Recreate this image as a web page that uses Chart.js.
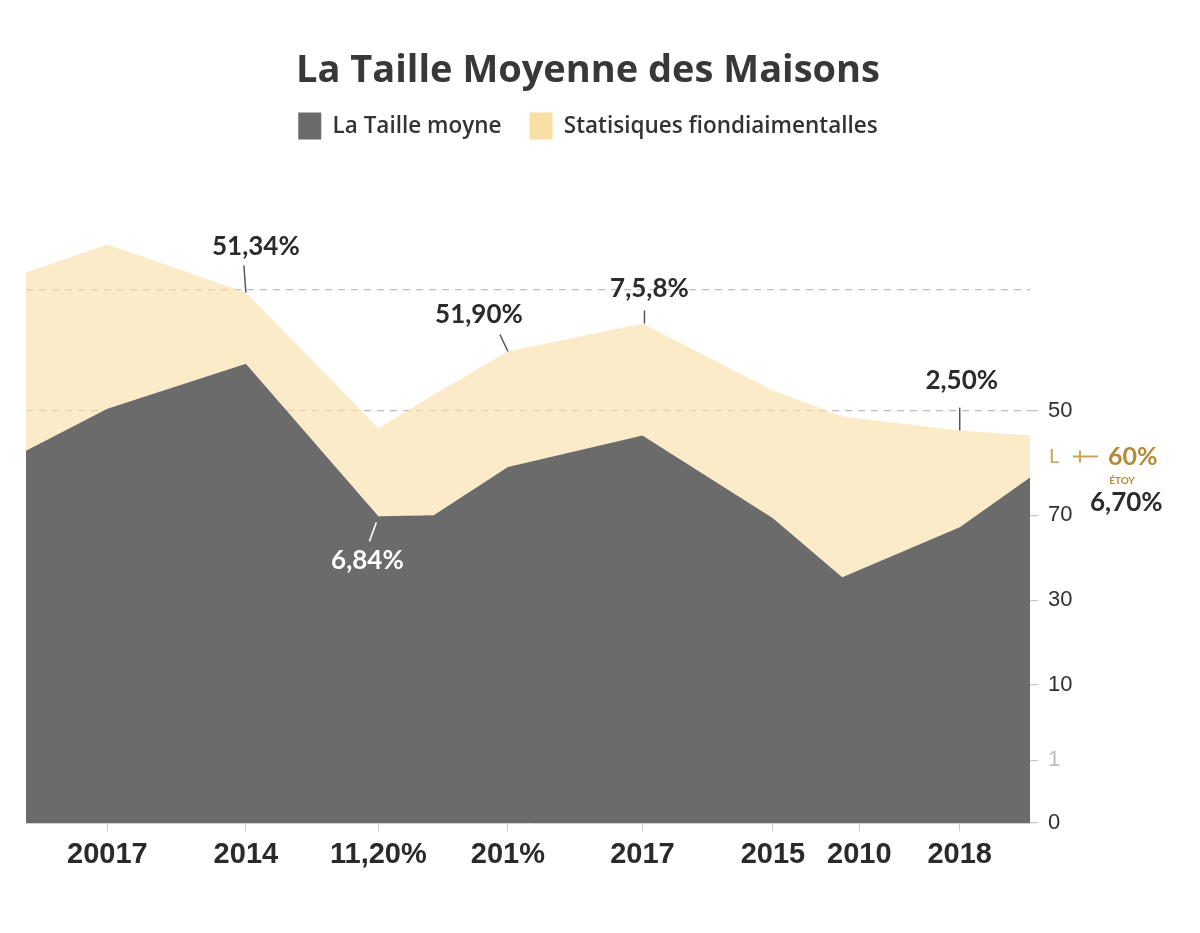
<!DOCTYPE html>
<html lang="fr">
<head>
<meta charset="utf-8">
<title>La Taille Moyenne des Maisons</title>
<script src="https://cdn.jsdelivr.net/npm/chart.js@4.4.1/dist/chart.umd.min.js"></script>
<style>
    html, body { margin: 0; padding: 0; background: #fff; }
    #wrap { width: 1200px; height: 933px; }
</style>
</head>
<body>
<div id="wrap"><canvas id="maisonsChart"></canvas></div>
<script>
// Données
const seriesNames = ['La Taille moyne', 'Statisiques fiondiaimentalles'];
const periodPositions = [0, 8.1, 21.9, 35.1, 40.6, 48.0, 61.4, 74.4, 81.3, 93.0, 100];
const tailleValues = [61.2, 68.1, 75.5, 50.4, 50.6, 58.5, 63.7, 50.1, 40.4, 48.6, 56.8];
const statValues = [29.3, 27.0, 11.7, 14.5, 19.8, 19.0, 18.4, 21.0, 26.4, 15.9, 6.9];

const xTickPositions = [8.1, 21.9, 35.1, 48.0, 61.4, 74.4, 83.0, 93.0];
const xTickLabels = ['20017', '2014', '11,20%', '201%', '2017', '2015', '2010', '2018'];

const yTickValues = [0, 10.3, 22.7, 36.6, 50.6, 67.8, 87.7];
const yTickLabels = ['0', '1', '10', '30', '70', '50', ''];

const calloutTexts = ['51,34%', '51,90%', '7,5,8%', '2,50%', '6,84%'];
const calloutIndex = [2, 5, 6, 9, 3];
const calloutSeries = [1, 1, 1, 1, 0];
const sideNoteTexts = ['L', '60%', 'ÉTOY', '6,70%'];

// petit espace entre la légende et le graphique
const legendGap = {
    id: 'legendGap',
    beforeLayout(chart) {
        const legend = chart.legend;
        if (legend && !legend._gapDone) {
            const fit = legend.fit;
            legend.fit = function () {
                fit.call(this);
                this.height += 65;
            };
            legend._gapDone = true;
        }
    }
};

// étiquettes et traits de rappel
const callouts = {
    id: 'callouts',
    afterDatasetsDraw(chart) {
        const ctx = chart.ctx;
        const offsets = [
            { tx: 10, ty: -46, l1: [0, 0], l2: [-2, -27], color: '#2b2b2b', line: '#555' },
            { tx: -29, ty: -37, l1: [0, 0], l2: [-8, -17], color: '#2b2b2b', line: '#555' },
            { tx: 7, ty: -35, l1: [2, 0], l2: [2, -13], color: '#2b2b2b', line: '#555' },
            { tx: 2, ty: -50, l1: [0, 0], l2: [0, -23], color: '#2b2b2b', line: '#555' },
            { tx: -11, ty: 44, l1: [-2, 6], l2: [-9, 25], color: '#ffffff', line: '#ffffff' }
        ];
        ctx.save();
        ctx.textAlign = 'center';
        ctx.textBaseline = 'middle';
        ctx.font = 'bold 26px Lato, "Open Sans", sans-serif';
        calloutTexts.forEach((text, i) => {
            const pt = chart.getDatasetMeta(calloutSeries[i]).data[calloutIndex[i]];
            const o = offsets[i];
            ctx.strokeStyle = o.line;
            ctx.lineWidth = 1.5;
            ctx.beginPath();
            ctx.moveTo(pt.x + o.l1[0], pt.y + o.l1[1]);
            ctx.lineTo(pt.x + o.l2[0], pt.y + o.l2[1]);
            ctx.stroke();
            ctx.fillStyle = o.color;
            ctx.fillText(text, pt.x + o.tx, pt.y + o.ty);
        });

        // notes à droite du dernier point
        const last = chart.getDatasetMeta(1).data[periodPositions.length - 1];
        const gold = '#b58b35';
        ctx.textAlign = 'left';
        ctx.fillStyle = '#c9a45a';
        ctx.font = '20px Lato, sans-serif';
        ctx.fillText(sideNoteTexts[0], last.x + 19, last.y + 21);
        ctx.strokeStyle = '#c9a45a';
        ctx.lineWidth = 2;
        ctx.beginPath();
        ctx.moveTo(last.x + 43, last.y + 21);
        ctx.lineTo(last.x + 68, last.y + 21);
        ctx.moveTo(last.x + 50, last.y + 15);
        ctx.lineTo(last.x + 50, last.y + 27);
        ctx.stroke();
        ctx.fillStyle = gold;
        ctx.font = 'bold 25px Lato, sans-serif';
        ctx.fillText(sideNoteTexts[1], last.x + 78, last.y + 21);
        ctx.textAlign = 'center';
        ctx.font = 'bold 10px Lato, sans-serif';
        ctx.fillText(sideNoteTexts[2], last.x + 92, last.y + 45);
        ctx.textAlign = 'left';
        ctx.fillStyle = '#2b2b2b';
        ctx.font = 'bold 26px Lato, sans-serif';
        ctx.fillText(sideNoteTexts[3], last.x + 60, last.y + 67);
        ctx.restore();
    }
};

const legendSwatches = ['#6b6b6b', '#f8dfa6'];

const ctx = document.getElementById('maisonsChart').getContext('2d');
new Chart(ctx, {
    type: 'line',
    data: {
        datasets: [
            {
                label: seriesNames[0],
                data: tailleValues.map((v, i) => ({ x: periodPositions[i], y: v })),
                backgroundColor: '#6b6b6b',
                borderColor: 'transparent',
                borderWidth: 0,
                pointRadius: 0,
                fill: 'origin',
                tension: 0
            },
            {
                label: seriesNames[1],
                data: statValues.map((v, i) => ({ x: periodPositions[i], y: v })),
                backgroundColor: 'rgba(250, 222, 163, 0.6)',
                borderColor: 'transparent',
                borderWidth: 0,
                pointRadius: 0,
                fill: '-1',
                tension: 0
            }
        ]
    },
    options: {
        responsive: true,
        maintainAspectRatio: false,
        animation: false,
        layout: { padding: { left: 26, right: 50, bottom: 50, top: 0 } },
        scales: {
            x: {
                type: 'linear',
                min: 0,
                max: 100,
                afterBuildTicks: (axis) => { axis.ticks = xTickPositions.map(v => ({ value: v })); },
                afterFit: (axis) => { axis.height = 60; },
                ticks: {
                    autoSkip: false,
                    maxRotation: 0,
                    padding: 7,
                    color: '#2a2a2a',
                    font: { family: '"Liberation Sans", Arial, sans-serif', size: 29, weight: 'bold' },
                    callback: (value, index) => xTickLabels[index]
                },
                grid: { drawOnChartArea: false, tickLength: 8, tickColor: '#c8c8c8' },
                border: { color: '#d0d0d0' }
            },
            y: {
                position: 'right',
                stacked: true,
                min: 0,
                max: 100,
                afterBuildTicks: (axis) => { axis.ticks = yTickValues.map(v => ({ value: v })); },
                afterFit: (axis) => { axis.width = 120; },
                ticks: {
                    padding: 10,
                    color: (c) => c.index === 1 ? '#bdbdbd' : '#2f2f2f',
                    font: { family: '"Liberation Sans", Arial, sans-serif', size: 22 },
                    callback: (value, index) => yTickLabels[index]
                },
                grid: {
                    color: (c) => c.index >= 5 ? '#bdbdbd' : 'transparent',
                    tickColor: (c) => c.index === 6 ? 'transparent' : '#c4c4c4',
                    tickLength: 8,
                    lineWidth: 1.2
                },
                border: { display: false, dash: [7, 6] }
            }
        },
        plugins: {
            title: {
                display: true,
                text: 'La Taille Moyenne des Maisons',
                color: '#383838',
                font: { family: '"Open Sans", Lato, sans-serif', size: 38, weight: 'bold' },
                padding: { top: 48, bottom: -9 }
            },
            legend: {
                display: true,
                labels: {
                    boxWidth: 23,
                    boxHeight: 27,
                    padding: 28,
                    color: '#333',
                    font: { family: '"Open Sans", Lato, sans-serif', size: 22.5, weight: 600 },
                    generateLabels: (chart) => chart.data.datasets.map((ds, i) => ({
                        text: ds.label,
                        fillStyle: legendSwatches[i],
                        strokeStyle: legendSwatches[i],
                        lineWidth: 0,
                        hidden: false,
                        datasetIndex: i,
                        fontColor: '#333'
                    }))
                }
            },
            tooltip: { enabled: false }
        }
    },
    plugins: [legendGap, callouts]
});
</script>
</body>
</html>
